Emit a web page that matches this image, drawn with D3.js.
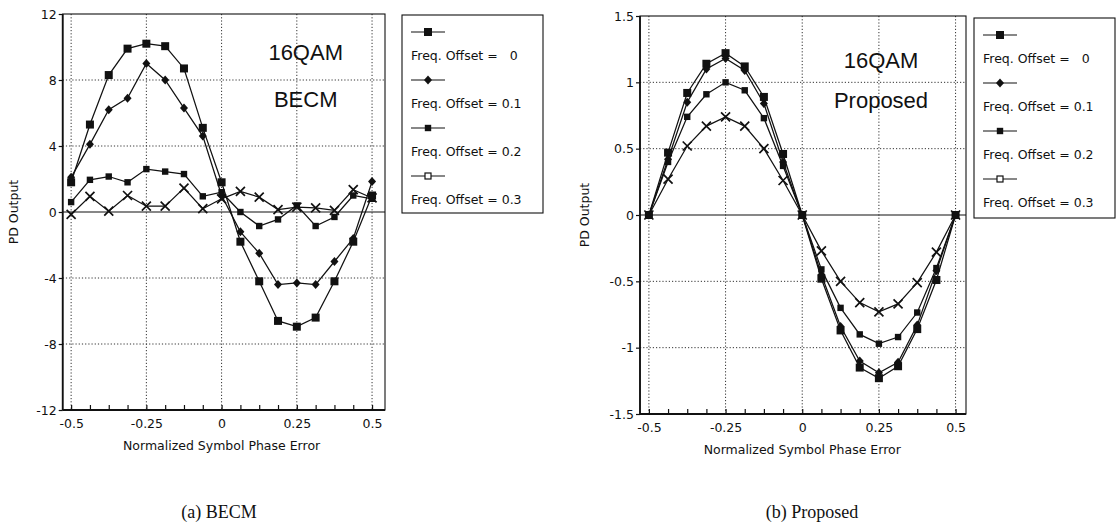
<!DOCTYPE html>
<html><head><meta charset="utf-8">
<script src="https://cdn.jsdelivr.net/npm/d3@7"></script>
<style>
body{margin:0;background:#fff}
svg{display:block}
.sm{font-family:"DejaVu Sans",sans-serif;font-size:12.5px;fill:#111}
.ttl{font-family:"Liberation Sans",Arial,sans-serif;font-size:22px;fill:#111}
.cap{font-family:"Liberation Serif","Times New Roman",serif;font-size:18px;fill:#111}
</style>
</head><body>
<svg id="c" width="1118" height="532"></svg>
<script>
// ---- data ----
const phaseError = [-0.5,-0.4375,-0.375,-0.3125,-0.25,-0.1875,-0.125,-0.0625,0,0.0625,0.125,0.1875,0.25,0.3125,0.375,0.4375,0.5];
const offsetNames = ["Freq. Offset =   0","Freq. Offset = 0.1","Freq. Offset = 0.2","Freq. Offset = 0.3"];

const becmOffset0  = [1.8,5.3,8.3,9.9,10.2,10.05,8.7,5.1,1.8,-1.8,-4.2,-6.6,-6.95,-6.4,-4.2,-1.8,1.0];
const becmOffset01 = [2.1,4.1,6.2,6.9,9.0,8.0,6.3,4.6,1.0,-1.2,-2.5,-4.4,-4.3,-4.4,-3.0,-1.6,1.85];
const becmOffset02 = [0.6,1.95,2.15,1.8,2.6,2.45,2.3,0.95,1.2,0.0,-0.85,-0.45,0.4,-0.85,-0.3,1.0,0.8];
const becmOffset03 = [-0.15,0.95,0.05,1.0,0.35,0.35,1.45,0.2,0.8,1.25,0.9,0.15,0.3,0.25,0.1,1.35,0.85];

const propOffset0  = [0,0.47,0.92,1.14,1.22,1.12,0.89,0.46,0,-0.48,-0.87,-1.15,-1.23,-1.14,-0.86,-0.49,0];
const propOffset01 = [0,0.42,0.85,1.10,1.18,1.09,0.84,0.40,0,-0.45,-0.84,-1.10,-1.19,-1.11,-0.83,-0.42,0];
const propOffset02 = [0,0.40,0.74,0.91,1.00,0.94,0.73,0.37,0,-0.41,-0.70,-0.90,-0.97,-0.92,-0.735,-0.40,0];
const propOffset03 = [0,0.27,0.52,0.67,0.74,0.67,0.50,0.26,0,-0.27,-0.50,-0.66,-0.73,-0.67,-0.51,-0.28,0];

const xTicks = [-0.5,-0.25,0,0.25,0.5];
const xTickLabels = ["-0.5","-0.25","0","0.25","0.5"];
const xMinorTicks = d3.range(-8,9).map(k=>k/16);
const becmYTicks = [12,8,4,0,-4,-8,-12];
const becmYLabels = ["12","8","4","0","-4","-8","-12"];
const propYTicks = [1.5,1,0.5,0,-0.5,-1,-1.5];
const propYLabels = ["1.5","1","0.5","0","-0.5","-1","-1.5"];

// ---- layout ----
const panels = [
  {left:62.7, top:14, right:385, bottom:410, xDom:[-0.528,0.543], yDom:[-12,12],
   yTicks:becmYTicks, yLabels:becmYLabels,
   series:[becmOffset0,becmOffset01,becmOffset02,becmOffset03],
   t1:"16QAM", t2:"BECM", tx:243, t1y:46, t2y:93,
   yLabX:14, legend:{x:402,y:15,w:141,h:198}, caption:"(a) BECM", capX:219},
  {left:640, top:16, right:966, bottom:414, xDom:[-0.529,0.534], yDom:[-1.5,1.5],
   yTicks:propYTicks, yLabels:propYLabels,
   series:[propOffset0,propOffset01,propOffset02,propOffset03],
   t1:"16QAM", t2:"Proposed", tx:241, t1y:52, t2y:92,
   yLabX:585, legend:{x:974,y:18,w:141,h:200}, caption:"(b) Proposed", capX:812}
];

const svg = d3.select("#c");

function marker(g, type, cx, cy, legend){
  if(type===0){
    g.append("rect").attr("x",cx-4).attr("y",cy-4).attr("width",8).attr("height",8).attr("fill","#111");
  } else if(type===1){
    g.append("path").attr("d",`M${cx},${cy-4.5}L${cx+4},${cy}L${cx},${cy+4.5}L${cx-4},${cy}Z`).attr("fill","#111");
  } else if(type===2){
    g.append("rect").attr("x",cx-3.2).attr("y",cy-3.2).attr("width",6.4).attr("height",6.4).attr("fill","#111");
  } else {
    if(legend){
      g.append("rect").attr("x",cx-3).attr("y",cy-3).attr("width",6).attr("height",6).attr("fill","#fff").attr("stroke","#111").attr("stroke-width",1.2);
    } else {
      g.append("path").attr("d",`M${cx-4.5},${cy-4.5}L${cx+4.5},${cy+4.5}M${cx-4.5},${cy+4.5}L${cx+4.5},${cy-4.5}`).attr("stroke","#111").attr("stroke-width",1.7);
    }
  }
}

panels.forEach(p=>{
  const x = d3.scaleLinear().domain(p.xDom).range([p.left,p.right]);
  const y = d3.scaleLinear().domain(p.yDom).range([p.bottom,p.top]);
  const g = svg.append("g");

  // grid
  g.selectAll(".vg").data(xTicks).enter().append("line")
    .attr("x1",d=>x(d)).attr("x2",d=>x(d)).attr("y1",p.top).attr("y2",p.bottom)
    .attr("stroke","#333").attr("stroke-width",1).attr("stroke-dasharray","1.2,2");
  g.selectAll(".hg").data(p.yTicks.filter(v=>v!==0 && v!==p.yDom[0] && v!==p.yDom[1])).enter().append("line")
    .attr("x1",p.left).attr("x2",p.right).attr("y1",d=>y(d)).attr("y2",d=>y(d))
    .attr("stroke","#333").attr("stroke-width",1).attr("stroke-dasharray","1.2,2");
  // zero line
  g.append("line").attr("x1",p.left).attr("x2",p.right).attr("y1",y(0)).attr("y2",y(0))
    .attr("stroke","#111").attr("stroke-width",1.1);

  // frame
  g.append("rect").attr("x",p.left).attr("y",p.top).attr("width",p.right-p.left).attr("height",p.bottom-p.top)
    .attr("fill","none").attr("stroke","#111").attr("stroke-width",1.1);
  g.append("line").attr("x1",p.left).attr("x2",p.left).attr("y1",p.top).attr("y2",p.bottom).attr("stroke","#111").attr("stroke-width",1.8);
  g.append("line").attr("x1",p.left).attr("x2",p.right).attr("y1",p.bottom).attr("y2",p.bottom).attr("stroke","#111").attr("stroke-width",1.8);

  // x axis (minor ticks inward) + labels
  const xa = g.append("g").attr("transform",`translate(0,${p.bottom})`)
    .call(d3.axisBottom(x).tickValues(xMinorTicks).tickSize(-5).tickFormat(""));
  xa.select(".domain").remove();
  xa.selectAll("line").attr("stroke","#111").attr("stroke-width",1.2);
  const xl = g.append("g").attr("transform",`translate(0,${p.bottom})`)
    .call(d3.axisBottom(x).tickValues(xTicks).tickSize(0).tickPadding(9).tickFormat((d,i)=>xTickLabels[i]));
  xl.select(".domain").remove();
  xl.selectAll("text").attr("class","sm").attr("font-family",null).attr("font-size",null).attr("fill",null);

  // y axis
  const ya = g.append("g").attr("transform",`translate(${p.left},0)`)
    .call(d3.axisLeft(y).tickValues(p.yTicks).tickSize(4).tickPadding(2).tickFormat((d,i)=>p.yLabels[i]));
  ya.select(".domain").remove();
  ya.selectAll("line").attr("stroke","#111").attr("stroke-width",1.2);
  ya.selectAll("text").attr("class","sm").attr("font-family",null).attr("font-size",null).attr("fill",null);

  // titles
  g.append("text").attr("class","ttl").attr("x",p.left+p.tx).attr("y",p.top+p.t1y).attr("text-anchor","middle").text(p.t1);
  g.append("text").attr("class","ttl").attr("x",p.left+p.tx).attr("y",p.top+p.t2y).attr("text-anchor","middle").text(p.t2);

  // axis titles
  g.append("text").attr("class","sm").attr("text-anchor","middle")
    .attr("transform",`translate(${p.yLabX},${(p.top+p.bottom)/2}) rotate(-90)`).attr("dy","0.35em").text("PD Output");
  g.append("text").attr("class","sm").attr("text-anchor","middle")
    .attr("x",(x(-0.5)+x(0.5))/2).attr("y",p.bottom+40).text("Normalized Symbol Phase Error");

  // caption
  g.append("text").attr("class","cap").attr("text-anchor","middle").attr("x",p.capX).attr("y",518).text(p.caption);

  // series
  const line = d3.line().x((d,i)=>x(phaseError[i])).y(d=>y(d));
  p.series.forEach((s,si)=>{
    g.append("path").datum(s).attr("d",line).attr("fill","none").attr("stroke","#111").attr("stroke-width",1.25);
  });
  p.series.forEach((s,si)=>{
    const mg = g.append("g");
    s.forEach((v,i)=>marker(mg,si,x(phaseError[i]),y(v),false));
  });

  // legend
  const L = p.legend;
  const lg = g.append("g");
  lg.append("rect").attr("x",L.x).attr("y",L.y).attr("width",L.w).attr("height",L.h)
    .attr("fill","#fff").attr("stroke","#111").attr("stroke-width",1.1);
  offsetNames.forEach((nm,i)=>{
    const ly = L.y+17+i*48;
    lg.append("line").attr("x1",L.x+9).attr("x2",L.x+43).attr("y1",ly).attr("y2",ly).attr("stroke","#111").attr("stroke-width",1.1);
    marker(lg,i,L.x+26,ly,true);
    lg.append("text").attr("class","sm").attr("x",L.x+9).attr("y",ly+28).style("white-space","pre").text(nm);
  });
});
</script>
</body></html>
